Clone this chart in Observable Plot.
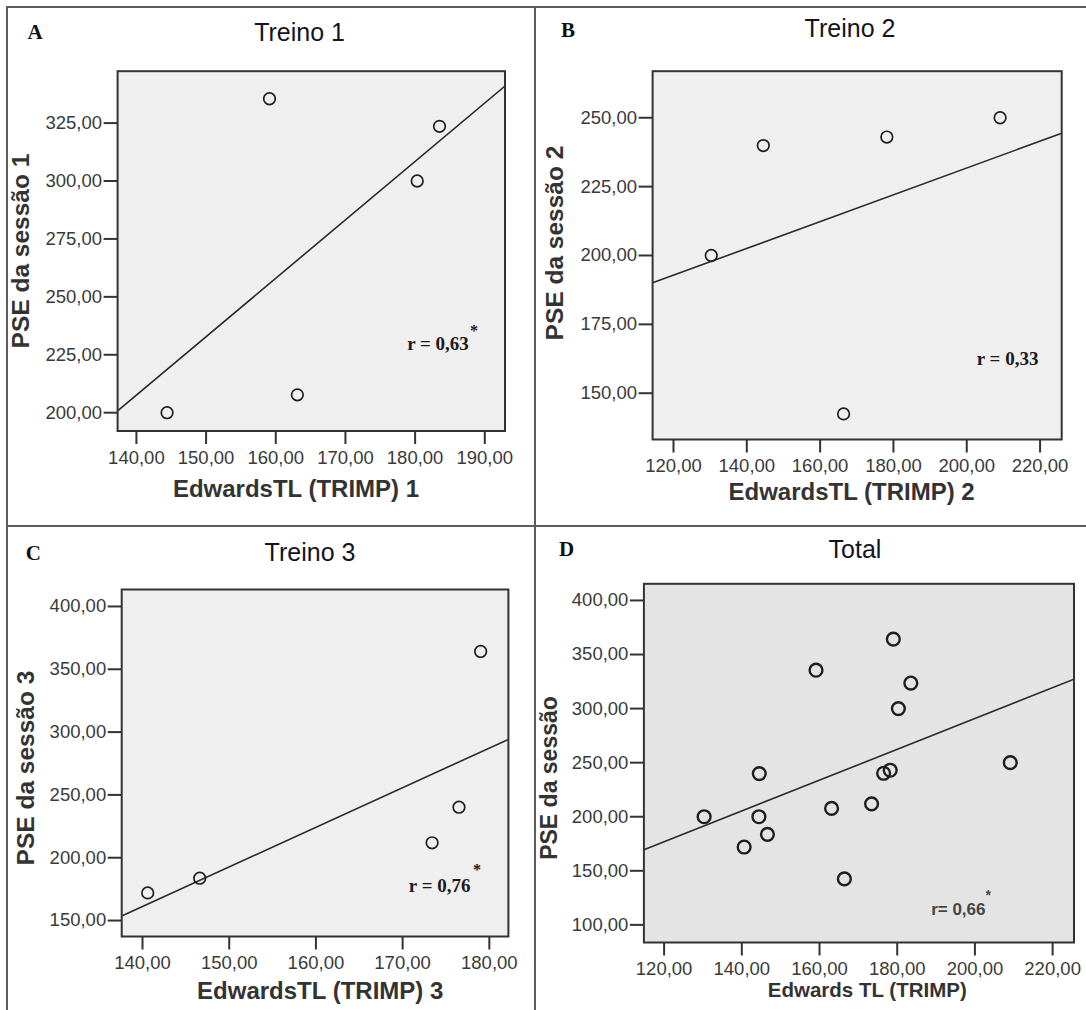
<!DOCTYPE html>
<html>
<head>
<meta charset="utf-8">
<script src="https://cdn.jsdelivr.net/npm/d3@7"></script>
<script src="https://cdn.jsdelivr.net/npm/@observablehq/plot@0.6"></script>
<style>
  body { margin: 0; background: #fff; }
  #wrap { position: relative; width: 1086px; height: 1010px; overflow: hidden; font-family: "Liberation Sans", Arial, sans-serif; }
  .rule { position: absolute; background: #5c5c5c; }
  .txt { position: absolute; white-space: nowrap; line-height: 1; transform: translate(-50%, -50%); }
  .letter { position: absolute; white-space: nowrap; line-height: 1; font-family: "Liberation Serif", "Times New Roman", serif; font-weight: bold; font-size: 21px; color: #111; transform: translateY(-50%); }
  .title { font-size: 25px; color: #141420; }
  .xlab { font-weight: bold; color: #333; }
  .ylab { font-weight: bold; color: #333; transform: translate(-50%, -50%) rotate(-90deg); }
  .panel { position: absolute; }
  .panel svg { overflow: visible; }
  .panel svg g[aria-label$="tick"], .panel svg g[aria-label$="tick"] path, .panel svg .tick line { stroke-width: 2px; stroke: #333; }
</style>
</head>
<body>
<div id="wrap"></div>
<script>
// ---------------- data ----------------
const panelLetters = ["A", "B", "C", "D"];
const panelTitles = ["Treino 1", "Treino 2", "Treino 3", "Total"];
const xLabels = ["EdwardsTL (TRIMP) 1", "EdwardsTL (TRIMP) 2", "EdwardsTL (TRIMP) 3", "Edwards TL (TRIMP)"];
const yLabels = ["PSE da sessão 1", "PSE da sessão 2", "PSE da sessão 3", "PSE da sessão"];
const rLabels = ["r = 0,63", "r = 0,33", "r = 0,76", "r= 0,66"];
const rStars = ["*", "", "*", "*"];

const trimp1 = [144.4, 159.1, 163.1, 180.3, 183.5];
const pse1   = [200, 335.5, 207.7, 300, 323.6];
const trimp2 = [130.3, 144.5, 166.4, 178.2, 209.1];
const pse2   = [200, 239.9, 142.5, 243, 250];
const trimp3 = [140.6, 146.6, 173.4, 176.5, 179.0];
const pse3   = [172, 183.7, 211.9, 240.2, 364.2];
// Total = all three sessions together
const trimpTotal = [...trimp1, ...trimp2, ...trimp3];
const pseTotal   = [...pse1, ...pse2, ...pse3];

const xTicks1 = [140, 150, 160, 170, 180, 190];
const yTicks1 = [200, 225, 250, 275, 300, 325];
const xTicks2 = [120, 140, 160, 180, 200, 220];
const yTicks2 = [150, 175, 200, 225, 250];
const xTicks3 = [140, 150, 160, 170, 180];
const yTicks3 = [150, 200, 250, 300, 350, 400];
const xTicks4 = [120, 140, 160, 180, 200, 220];
const yTicks4 = [100, 150, 200, 250, 300, 350, 400];

const xDomain1 = [137.3, 192.9], yDomain1 = [192.1, 347.4];
const xDomain2 = [114.3, 225.9], yDomain2 = [133.2, 266.9];
const xDomain3 = [137.6, 182.2], yDomain3 = [137.3, 413.5];
const xDomain4 = [114.8, 225.5], yDomain4 = [83.7, 415.4];

// ---------------- layout ----------------
const wrap = document.getElementById("wrap");
function rule(l, t, w, h) {
  const d = document.createElement("div");
  d.className = "rule";
  Object.assign(d.style, {left: l + "px", top: t + "px", width: w + "px", height: h + "px"});
  wrap.appendChild(d);
}
rule(6, 6, 1080, 2);
rule(6, 6, 2, 1004);
rule(533.5, 6, 2, 1004);
rule(6, 524.7, 1080, 2);

function txt(cls, s, x, y, size) {
  const d = document.createElement("div");
  d.className = cls;
  d.textContent = s;
  d.style.left = x + "px";
  d.style.top = y + "px";
  if (size) d.style.fontSize = size + "px";
  wrap.appendChild(d);
}

const fmt = d => d.toFixed(2).replace(".", ",");

function fitLine(xs, ys, dom) {
  const mx = d3.mean(xs), my = d3.mean(ys);
  const sxy = d3.sum(xs, (x, i) => (x - mx) * (ys[i] - my));
  const sxx = d3.sum(xs, x => (x - mx) ** 2);
  const b = sxy / sxx;
  return dom.map(x => ({x, y: my + b * (x - mx)}));
}

const panels = [
  {xs: trimp1, ys: pse1, xt: xTicks1, yt: yTicks1, xd: xDomain1, yd: yDomain1,
   box: {left: 0, top: 0, width: 534, height: 524}, m: {top: 70.7, right: 29.5, bottom: 93.5, left: 117.1},
   bg: "#efefef", dotR: 5.8, dotW: 1.7, rFont: "serif", rSize: 19, rdx: -36.2, rdy: -87.2, sdx: -35, sdy: -100,
   letter: [27.5, 31.7], title: [299.6, 31.7], xl: [296, 489, 24], yl: [21, 251, 24.5]},
  {xs: trimp2, ys: pse2, xt: xTicks2, yt: yTicks2, xd: xDomain2, yd: yDomain2,
   box: {left: 536, top: 0, width: 550, height: 524}, m: {top: 70.7, right: 24.8, bottom: 85, left: 116.1},
   bg: "#efefef", dotR: 5.8, dotW: 1.7, rFont: "serif", rSize: 19, rdx: -23.3, rdy: -80.7, sdx: 0, sdy: 0,
   letter: [561, 30], title: [850, 28.3], xl: [851.6, 492, 24], yl: [554.5, 243.3, 24.5]},
  {xs: trimp3, ys: pse3, xt: xTicks3, yt: yTicks3, xd: xDomain3, yd: yDomain3,
   box: {left: 0, top: 527, width: 534, height: 483}, m: {top: 62, right: 26.1, bottom: 74, left: 121.2},
   bg: "#efefef", dotR: 5.8, dotW: 1.7, rFont: "serif", rSize: 19, rdx: -37.9, rdy: -51, sdx: -35.5, sdy: -67,
   letter: [25.8, 553.3], title: [310, 551.7], xl: [320.2, 991, 24], yl: [26, 767.5, 24.5]},
  {xs: trimpTotal, ys: pseTotal, xt: xTicks4, yt: yTicks4, xd: xDomain4, yd: yDomain4,
   box: {left: 536, top: 527, width: 550, height: 483}, m: {top: 56.3, right: 12.5, bottom: 68, left: 107.4},
   bg: "#e4e4e4", dotR: 6.4, dotW: 2.4, rFont: "sans", rSize: 17, rdx: -88.5, rdy: -32.7, sdx: -88.5, sdy: -47,
   letter: [559, 549.3], title: [855, 549.3], xl: [867.3, 990, 20.5], yl: [549, 778.3, 23]}
];

panels.forEach((p, i) => {
  const pts = p.xs.map((x, j) => ({x, y: p.ys[j]}));
  const reg = fitLine(p.xs, p.ys, p.xd);
  const rFamily = p.rFont === "serif" ? "Liberation Serif, Times New Roman, serif" : "Liberation Sans, Arial, sans-serif";
  const rColor = p.rFont === "serif" ? "#1a1a1a" : "#444";
  const marks = [
    Plot.frame({fill: p.bg}),
    Plot.line(reg, {x: "x", y: "y", stroke: "#2a2a2a", strokeWidth: 1.6, clip: true}),
    Plot.dot(pts, {x: "x", y: "y", r: p.dotR, stroke: "#1e1e1e", strokeWidth: p.dotW, fill: "none"}),
    Plot.text([rLabels[i]], {text: d => d, frameAnchor: "bottom-right", dx: p.rdx, dy: p.rdy,
      textAnchor: "end", lineAnchor: "middle", fontFamily: rFamily, fontWeight: "bold", fontSize: p.rSize, fill: rColor})
  ];
  if (rStars[i]) {
    marks.push(Plot.text([rStars[i]], {text: d => d, frameAnchor: "bottom-right", dx: p.sdx, dy: p.sdy,
      textAnchor: "start", lineAnchor: "middle", fontFamily: rFamily, fontWeight: "bold", fontSize: p.rSize - 3, fill: rColor}));
  }
  marks.push(Plot.frame({stroke: "#333", strokeWidth: 2}));

  const chart = Plot.plot({
    width: p.box.width, height: p.box.height,
    marginTop: p.m.top, marginRight: p.m.right, marginBottom: p.m.bottom, marginLeft: p.m.left,
    style: {background: "transparent", fontFamily: "Liberation Sans, Arial, sans-serif", fontSize: "18.5px", color: "#3a3a3a", overflow: "visible"},
    x: {domain: p.xd, ticks: p.xt, tickFormat: fmt, tickSize: 13.5, tickPadding: 6, label: null},
    y: {domain: p.yd, ticks: p.yt, tickFormat: fmt, tickSize: 13.5, tickPadding: 2, label: null},
    marks
  });
  const holder = document.createElement("div");
  holder.className = "panel";
  Object.assign(holder.style, {left: p.box.left + "px", top: p.box.top + "px", width: p.box.width + "px", height: p.box.height + "px"});
  holder.appendChild(chart);
  wrap.appendChild(holder);

  // letters, titles, axis labels
  const L = document.createElement("div");
  L.className = "letter";
  L.textContent = panelLetters[i];
  L.style.left = p.letter[0] + "px";
  L.style.top = p.letter[1] + "px";
  wrap.appendChild(L);
  txt("txt title", panelTitles[i], p.title[0], p.title[1]);
  txt("txt xlab", xLabels[i], p.xl[0], p.xl[1], p.xl[2]);
  txt("txt ylab", yLabels[i], p.yl[0], p.yl[1], p.yl[2]);
});
</script>
</body>
</html>
